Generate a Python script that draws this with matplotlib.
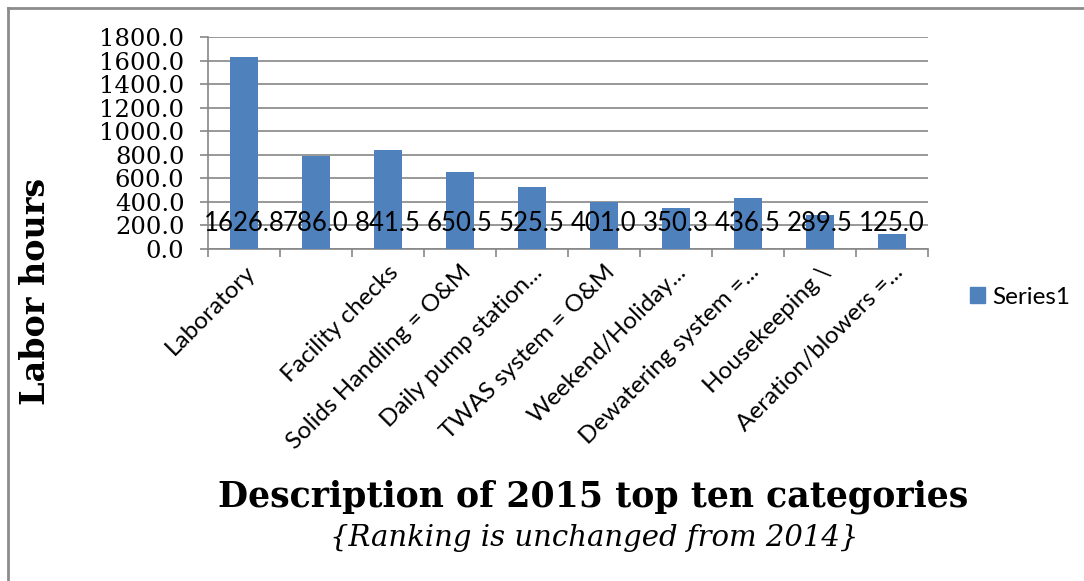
import matplotlib
matplotlib.use("Agg")
import matplotlib.pyplot as plt
from matplotlib.lines import Line2D
from matplotlib.patches import Patch
import numpy as np

# values (labor hours, 2015)
categories = ['Laboratory', '', 'Facility checks', 'Solids Handling = O&M',
              'Daily pump station...', 'TWAS system = O&M', 'Weekend/Holiday...',
              'Dewatering system =...', 'Housekeeping \\', 'Aeration/blowers =...']
hours = [1626.8, 786.0, 841.5, 650.5, 525.5, 401.0, 350.3, 436.5, 289.5, 125.0]
yticks = np.arange(0, 1801, 200)

bar_color = '#4F81BD'
grid_color = '#868686'
serif = 'DejaVu Serif'
sans = 'Lato'

W, H = 1084, 581
fig = plt.figure(figsize=(W / 100, H / 100), dpi=100)
ax = fig.add_axes([208 / W, 1 - 249 / H, 720 / W, 212 / H])

x = np.arange(len(hours))
ax.bar(x, hours, width=0.39, color=bar_color, zorder=3)
ax.set_xlim(-0.5, len(hours) - 0.5)
ax.set_ylim(0, 1800)

# gridlines and axes, excel style
ax.set_yticks(yticks)
ax.set_yticklabels(['%.1f' % v for v in yticks], fontfamily=serif, fontsize=17.5)
ax.yaxis.grid(True, color=grid_color, linewidth=1.2, zorder=0)
ax.tick_params(axis='y', length=6, width=1.2, color=grid_color, pad=11)
ax.set_xticks(x)
ax.set_xticklabels(categories, rotation=45, ha='right', rotation_mode='anchor',
                   fontfamily=sans, fontsize=17.5)
ax.tick_params(axis='x', which='major', length=0, pad=9)
ax.set_xticks(np.arange(-0.5, len(hours)), minor=True)
ax.tick_params(axis='x', which='minor', length=6, width=1.2, color=grid_color)
for s in ['top', 'right']:
    ax.spines[s].set_visible(False)
for s in ['left', 'bottom']:
    ax.spines[s].set_color(grid_color)
    ax.spines[s].set_linewidth(1.2)

# data labels sit near the base
for xi, v in zip(x, hours):
    ax.text(xi, 216, '%.1f' % v, ha='center', va='center', fontfamily=sans,
            fontsize=18.5, zorder=4)

ax.legend(handles=[Patch(color=bar_color, label='Series1')], loc='center left',
          bbox_to_anchor=(953 / W, 1 - 297 / H), bbox_transform=fig.transFigure,
          frameon=False, handlelength=0.6, handleheight=0.6, handletextpad=0.3,
          borderpad=0.2, prop={'family': sans, 'size': 17.5})

fig.text(36 / W, 1 - 291 / H, 'Labor hours', rotation=90, ha='center', va='center',
         fontfamily=serif, fontweight='bold', fontsize=24)
fig.text(593 / W, 1 - 497 / H, 'Description of 2015 top ten categories',
         ha='center', va='center', fontfamily=serif, fontweight='bold', fontsize=25)
fig.text(594 / W, 1 - 538 / H, '{Ranking is unchanged from 2014}', ha='center',
         va='center', fontfamily=serif, fontstyle='italic', fontsize=21)

# chart frame (only top and left edges show in the crop)
fig.add_artist(Line2D([8 / W, 1], [1 - 8 / H, 1 - 8 / H], color='#8c8c8c', linewidth=2))
fig.add_artist(Line2D([8 / W, 8 / W], [0, 1 - 8 / H], color='#8c8c8c', linewidth=2))

fig.savefig('out.png', dpi=100)
